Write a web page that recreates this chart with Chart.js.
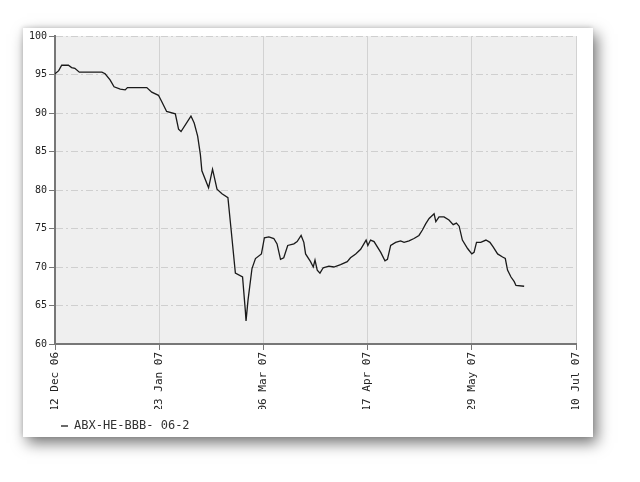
<!DOCTYPE html>
<html>
<head>
<meta charset="utf-8">
<script src="https://cdn.jsdelivr.net/npm/chart.js@4/dist/chart.umd.min.js"></script>
<style>
  html, body { margin: 0; padding: 0; background: #fff; }
  body { width: 640px; height: 482px; position: relative; overflow: hidden; }
  .card {
    position: absolute; left: 23px; top: 28px; width: 570px; height: 409px;
    background: #fff;
    box-shadow: 4px 6px 14px rgba(0, 0, 0, 0.55), -1px -1px 4px rgba(0, 0, 0, 0.12);
  }
  canvas { display: block; }
</style>
</head>
<body>
<div class="card">
  <canvas id="abxChart" width="570" height="409"></canvas>
</div>
<script>
// days after 12 Dec 06
const days = [
  0, 1.5, 2.7, 5.4, 6.7, 8, 9.8, 18.9, 20.2, 22.2, 23.8, 26.3, 28.3, 29.2, 37, 39, 41.7,
  43, 45, 48.5, 49.8, 50.8, 54.8, 56.1, 57.5, 58.6, 59.2, 61.9, 63.5, 65.3, 67.3, 69.7,
  71, 72.7, 75.6, 76.7, 77, 77.8, 79.4, 80.8, 83.2, 84.4, 86.2, 88.2, 89.5, 90.9, 92.2,
  93.8, 96.3, 97.6, 99.2, 100.3, 101, 103, 104.1, 104.8, 105.7, 106.8, 108.1, 110.4,
  112.4, 115.1, 117.8, 119.1, 121.2, 123.2, 124.5, 125.4, 126.1, 127.2, 128.6, 131.3,
  133, 134, 135.3, 137.3, 139.3, 140.7, 142.7, 144.7, 146.7, 148.1, 149.4, 150.8, 152.8,
  153.5, 154.8, 156.8, 158.8, 160.5, 161.8, 162.9, 164.2, 166.3, 168, 168.9, 169.9,
  171.6, 173.7, 175.3, 176.6, 178.4, 180.4, 181.5, 182.4, 183.8, 185.1, 185.8, 189.1
];
const prices = [
  95.1, 95.5, 96.2, 96.2, 95.9, 95.8, 95.3, 95.3, 95.1, 94.3, 93.4, 93.1, 93.0, 93.3, 93.3, 92.7, 92.3,
  91.5, 90.2, 89.9, 87.9, 87.6, 89.6, 88.7, 87.0, 84.6, 82.5, 80.3, 82.7, 80.1, 79.5, 79.0,
  74.8, 69.2, 68.7, 64.4, 63.0, 65.7, 69.8, 71.1, 71.7, 73.8, 73.9, 73.7, 73.0, 71.0, 71.2,
  72.8, 73.0, 73.3, 74.1, 73.2, 71.7, 70.7, 70.0, 70.9, 69.6, 69.2, 69.9, 70.1,
  70.0, 70.3, 70.7, 71.2, 71.7, 72.3, 73.0, 73.5, 72.8, 73.5, 73.3, 71.9,
  70.8, 71.0, 72.8, 73.2, 73.4, 73.2, 73.4, 73.7, 74.1, 74.8, 75.6, 76.3, 76.9,
  75.9, 76.5, 76.5, 76.1, 75.5, 75.7, 75.3, 73.5, 72.4, 71.7, 71.9, 73.2,
  73.2, 73.5, 73.2, 72.6, 71.7, 71.3, 71.1, 69.6, 68.7, 68.1, 67.6, 67.5
];
const seriesName = 'ABX-HE-BBB- 06-2';

const xTickDays = [0, 42, 84, 126, 168, 210];
const xTickLabels = ['12 Dec 06', '23 Jan 07', '06 Mar 07', '17 Apr 07', '29 May 07', '10 Jul 07'];
const yTicks = [60, 65, 70, 75, 80, 85, 90, 95, 100];

const points = days.map((d, i) => ({ x: d, y: prices[i] }));

const plotBg = {
  id: 'plotBg',
  beforeDraw(chart) {
    const { ctx, chartArea: a } = chart;
    ctx.save();
    ctx.fillStyle = '#efefef';
    ctx.fillRect(a.left, a.top, a.right - a.left, a.bottom - a.top);
    ctx.restore();
  },
  afterLayout(chart) {
    // nudge legend under the plot, like the original
    chart.legend.left += 32;
    chart.legend.top += 5;
  }
};

const mono = 'DejaVu Sans Mono';

new Chart(document.getElementById('abxChart'), {
  type: 'line',
  data: {
    datasets: [{
      label: seriesName,
      data: points,
      borderColor: '#1a1a1a',
      backgroundColor: '#1a1a1a',
      borderWidth: 1.3,
      pointRadius: 0,
      tension: 0,
      fill: false
    }]
  },
  plugins: [plotBg],
  options: {
    responsive: false,
    animation: false,
    layout: { padding: { left: 0, top: 6, right: 17, bottom: 0 } },
    plugins: {
      tooltip: { enabled: false },
      legend: {
        position: 'bottom',
        align: 'start',
        labels: {
          usePointStyle: true,
          pointStyle: 'line',
          pointStyleWidth: 7,
          padding: 6,
          color: '#333',
          font: { family: mono, size: 12 }
        }
      }
    },
    scales: {
      x: {
        type: 'linear',
        min: 0,
        max: 210,
        afterBuildTicks: scale => { scale.ticks = xTickDays.map(v => ({ value: v })); },
        afterFit: scale => { scale.height = 65; },
        ticks: {
          minRotation: 90,
          maxRotation: 90,
          padding: 2,
          color: '#222',
          font: { family: mono, size: 11 },
          callback: v => xTickLabels[xTickDays.indexOf(v)]
        },
        grid: { color: '#d2d2d2', lineWidth: 1, tickLength: 6, tickColor: '#777' },
        border: { color: '#777', width: 2 }
      },
      y: {
        min: 60,
        max: 100,
        afterBuildTicks: scale => { scale.ticks = yTicks.map(v => ({ value: v })); },
        afterFit: scale => { scale.width = 32; },
        ticks: {
          padding: 2,
          color: '#222',
          font: { family: mono, size: 10 }
        },
        grid: { color: '#cfcfcf', lineWidth: 1, tickLength: 6, tickColor: '#777', tickBorderDash: [] },
        border: { color: '#777', width: 2, dash: [7, 3, 2, 3] }
      }
    }
  }
});
</script>
</body>
</html>
